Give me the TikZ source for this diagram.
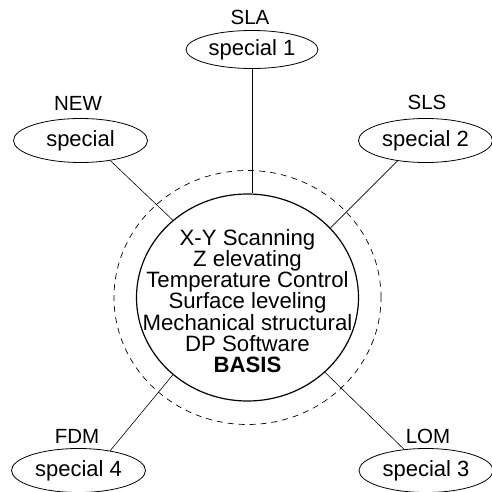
\documentclass[tikz,border=0pt]{standalone}
\usepackage{fontspec}
\setmainfont{Liberation Sans}
\usetikzlibrary{shapes.geometric}
\begin{document}
\begin{tikzpicture}[x=1pt,y=-1pt,
  spec/.style={draw, ellipse, line width=0.8pt, minimum width=134pt, minimum height=44pt, inner sep=0pt, font=\fontsize{22}{24}\selectfont},
  lbl/.style={font=\fontsize{20.5}{22}\selectfont, inner sep=0pt},
  conn/.style={line width=0.6pt},
  basis/.style={draw, ellipse, line width=1.2pt, minimum width=222pt, minimum height=207pt, inner sep=0pt},
  basistext/.style={align=center, inner sep=0pt, font=\fontsize{22.2}{21.2}\selectfont},
  ring/.style={draw, ellipse, dashed, dash pattern=on 6pt off 5pt, line width=0.7pt, minimum width=267pt, minimum height=254pt, inner sep=0pt}
]
\useasboundingbox (0,0) rectangle (491,492);
\node[ring] (ring) at (247.5,297.5) {};
\node[basis] (basis) at (247.5,297.5) {};
\node[basistext] (btext) at (247.5,301) {X-Y Scanning\\Z elevating\\Temperature Control\\Surface leveling\\Mechanical structural\\DP Software\\\textbf{BASIS}};
\node[spec, minimum width=132pt, minimum height=38pt] (s1) at (252,49.5) {special 1};
\node[spec] (s0) at (80.5,140.5) {special};
\node[spec] (s2) at (425.5,140.5) {special 2};
\node[spec] (s4) at (78.5,470.5) {special 4};
\node[spec] (s3) at (426,470.5) {special 3};
\node[lbl] (lsla) at (250,17) {SLA};
\node[lbl] (lnew) at (78,103) {NEW};
\node[lbl] (lsls) at (427,102) {SLS};
\node[lbl] (lfdm) at (77,436) {FDM};
\node[lbl] (llom) at (428,436) {LOM};
\draw[conn] (s1.south) -- (s1.south |- basis.north);
\draw[conn] (s0.-34) -- (basis.134.6);
\draw[conn] (s2.-144) -- (basis.40.7);
\draw[conn] (s4.32) -- (basis.226.8);
\draw[conn] (s3.136) -- (basis.-44.6);
\end{tikzpicture}
\end{document}
